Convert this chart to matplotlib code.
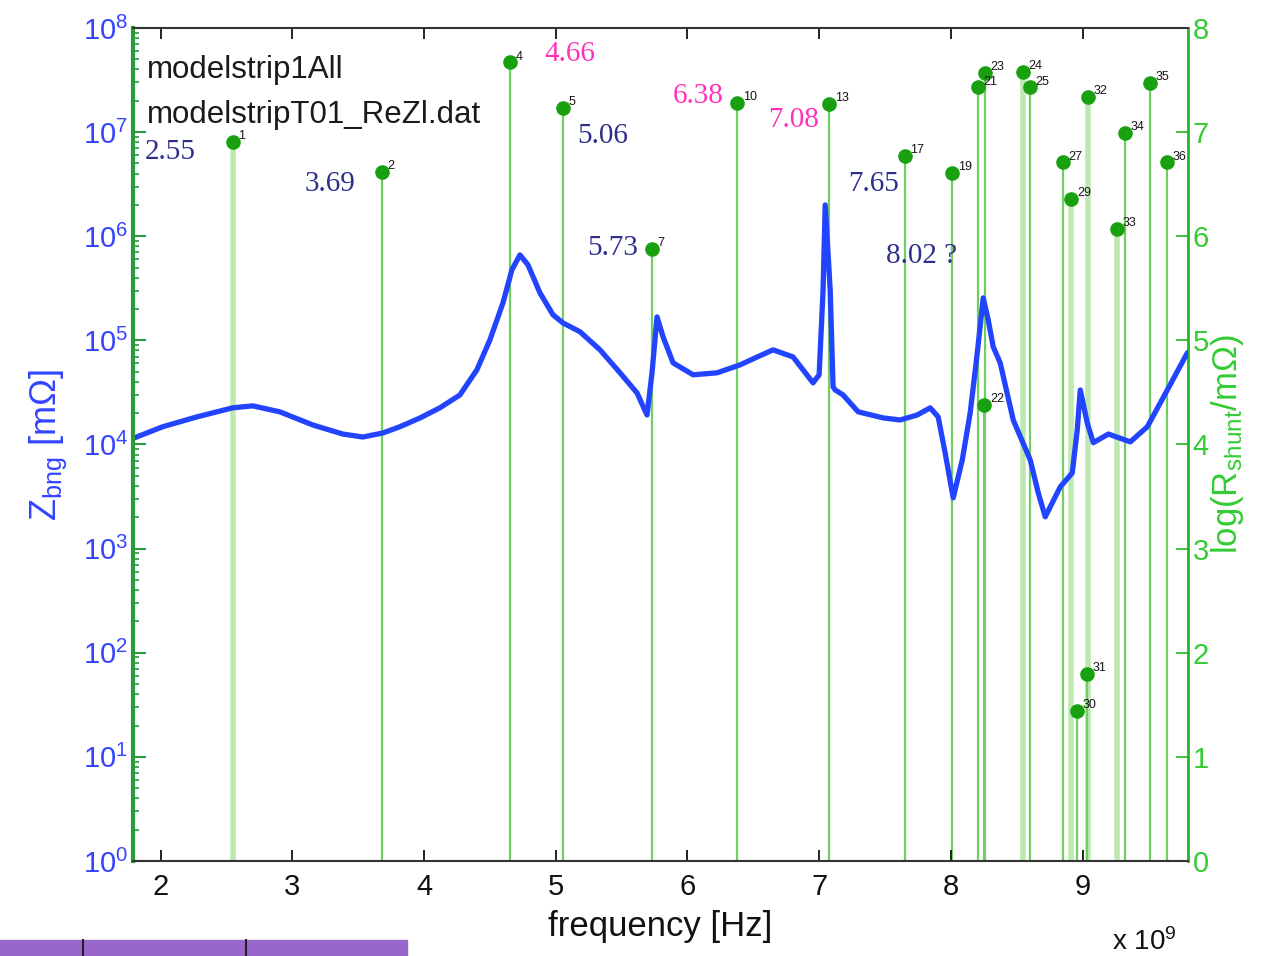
import numpy as np
import matplotlib
matplotlib.use('Agg')
import matplotlib.pyplot as plt
from matplotlib.ticker import FixedLocator, FuncFormatter, LogLocator, NullFormatter
from matplotlib.patches import Rectangle
from matplotlib.lines import Line2D

matplotlib.rcParams['font.family'] = ['Liberation Sans', 'DejaVu Sans']
matplotlib.rcParams['mathtext.fontset'] = 'custom'
matplotlib.rcParams['mathtext.rm'] = 'Liberation Sans'
matplotlib.rcParams['mathtext.it'] = 'Liberation Sans:italic'

# impedance curve, frequency in GHz, Z in mOhm
f_curve = [1.802, 2.015, 2.274, 2.547, 2.699, 2.904, 3.155, 3.383, 3.535, 3.687,
           3.816, 3.970, 4.120, 4.272, 4.401, 4.500, 4.599, 4.667, 4.728, 4.789,
           4.880, 4.979, 5.055, 5.184, 5.336, 5.488, 5.617, 5.693, 5.731, 5.769,
           5.815, 5.891, 6.043, 6.225, 6.400, 6.530, 6.650, 6.802, 6.954, 7.000,
           7.030, 7.046, 7.084, 7.106, 7.122, 7.182, 7.296, 7.486, 7.615, 7.745,
           7.843, 7.904, 7.957, 8.018, 8.087, 8.147, 8.201, 8.246, 8.284, 8.322,
           8.375, 8.474, 8.603, 8.664, 8.717, 8.831, 8.922, 8.960, 8.983, 9.036,
           9.082, 9.196, 9.363, 9.492, 9.644, 9.796]
z_curve = [1.16e4, 1.48e4, 1.84e4, 2.25e4, 2.35e4, 2.06e4, 1.54e4, 1.26e4, 1.18e4, 1.29e4,
           1.48e4, 1.80e4, 2.25e4, 2.99e4, 5.21e4, 1.01e5, 2.29e5, 4.76e5, 6.62e5, 5.31e5,
           2.86e5, 1.76e5, 1.47e5, 1.21e5, 8.11e4, 4.88e4, 3.13e4, 1.92e4, 4.88e4, 1.68e5,
           1.08e5, 6.08e4, 4.67e4, 4.88e4, 5.82e4, 6.93e4, 8.11e4, 6.93e4, 3.91e4, 4.67e4,
           3.05e5, 2.00e6, 3.05e5, 3.57e4, 3.34e4, 2.99e4, 2.06e4, 1.80e4, 1.72e4, 1.92e4,
           2.25e4, 1.84e4, 8.30e3, 3.07e3, 7.11e3, 2.01e4, 7.59e4, 2.56e5, 1.57e5, 8.67e4,
           6.08e4, 1.72e4, 7.11e3, 3.43e3, 2.02e3, 3.92e3, 5.33e3, 1.38e4, 3.34e4, 1.61e4,
           1.04e4, 1.26e4, 1.06e4, 1.48e4, 3.34e4, 7.59e4]

# shunt resonances: index, frequency (GHz), log(Rshunt/mOhm)
res_id = [1, 2, 4, 5, 7, 10, 13, 17, 19, 21, 22, 23, 24, 25, 27, 29, 30, 31, 32, 33, 34, 35, 36]
res_f = [2.547, 3.68, 4.65, 5.055, 5.73, 6.38, 7.076, 7.65, 8.01, 8.207, 8.254, 8.261,
         8.55, 8.60, 8.85, 8.915, 8.96, 9.036, 9.04, 9.26, 9.325, 9.515, 9.645]
res_logr = [6.91, 6.62, 7.67, 7.23, 5.88, 7.28, 7.27, 6.77, 6.61, 7.43, 4.38, 7.57,
            7.58, 7.43, 6.71, 6.36, 1.44, 1.80, 7.34, 6.07, 6.99, 7.47, 6.71]
res_pale = [1, 24, 29, 32, 33]

# hand annotations
note_txt = ['2.55', '3.69', '4.66', '5.06', '5.73', '6.38', '7.08', '7.65', '8.02 ?']
note_col = ['blue', 'blue', 'pink', 'blue', 'blue', 'pink', 'pink', 'blue', 'blue']
note_x = [1.878, 3.094, 4.910, 5.161, 5.237, 5.891, 6.612, 7.220, 7.509]
note_y = [6.81, 6.50, 7.75, 6.96, 5.89, 7.35, 7.12, 6.50, 5.81]

colors = {'blue': '#2e2e8e', 'pink': '#ff33bb'}
green_line = '#6fd060'
green_pale = '#bde8b0'
green_dot = '#18a010'
green_axis = '#22b822'

fig = plt.figure(figsize=(12.61, 9.56), dpi=100)
ax = fig.add_axes([0.1055, 0.0994, 0.8365, 0.8713])
ax2 = ax.twinx()
ax.set_zorder(ax2.get_zorder() + 1)
ax.patch.set_visible(False)

# stems on the right axis
for i, f, r in zip(res_id, res_f, res_logr):
    if i in res_pale:
        ax2.vlines(f * 1e9, 0, r, color=green_pale, lw=4, zorder=1)
    else:
        ax2.vlines(f * 1e9, 0, r, color=green_line, lw=1.6, zorder=2)
ax2.plot(np.array(res_f) * 1e9, res_logr, 'o', color=green_dot, ms=9.5, zorder=3)
for i, f, r in zip(res_id, res_f, res_logr):
    ax2.annotate(str(i), (f * 1e9, r), xytext=(4, 2), textcoords='offset points',
                 fontsize=9, color='#151515', zorder=4)

for t, c, x, y in zip(note_txt, note_col, note_x, note_y):
    ax2.text(x * 1e9, y, t, color=colors[c], fontsize=21, family='Liberation Serif',
             ha='left', va='center', zorder=5)

ax.text(0.013, 0.949, 'modelstrip1All', transform=ax.transAxes, fontsize=22.5,
        color='#1a1a1a', va='center')
ax.text(0.013, 0.895, 'modelstripT01_ReZl.dat', transform=ax.transAxes, fontsize=22.5,
        color='#1a1a1a', va='center')

# impedance
ax.semilogy(np.array(f_curve) * 1e9, z_curve, color='#2244ff', lw=3.8,
            solid_joinstyle='round', solid_capstyle='round')

ax.set_xlim(1.79e9, 9.80e9)
ax.set_ylim(1, 1e8)
ax2.set_ylim(0, 8)

ax.xaxis.set_major_locator(FixedLocator([k * 1e9 for k in range(2, 10)]))
ax.xaxis.set_major_formatter(FuncFormatter(lambda v, p: '%d' % round(v / 1e9)))
ax.yaxis.set_major_locator(LogLocator(base=10, numticks=12))
ax.yaxis.set_minor_locator(LogLocator(base=10, subs=np.arange(2, 10), numticks=12))
ax.yaxis.set_minor_formatter(NullFormatter())

ax.tick_params(axis='x', which='both', direction='in', top=True, length=8, width=1.3,
               labelsize=21, colors='#111111', pad=9)
ax.tick_params(axis='y', which='major', direction='in', length=9, width=1.5,
               color='#2a9a3a', labelcolor='#3344ff', labelsize=21, right=False)
ax.tick_params(axis='y', which='minor', direction='in', length=4, width=1.2,
               color='#2a9a3a', right=False)
ax2.tick_params(axis='y', direction='in', length=9, width=1.2, color=green_axis,
                labelcolor='#33cc33', labelsize=21)
ax2.set_yticks(range(0, 9))

for s in ['top', 'bottom']:
    ax.spines[s].set_color('#333333')
    ax.spines[s].set_linewidth(1.5)
ax.spines['left'].set_color('#2a9a3a')
ax.spines['left'].set_linewidth(3)
ax.spines['right'].set_visible(False)
for s in ['top', 'bottom', 'left']:
    ax2.spines[s].set_visible(False)
ax2.spines['right'].set_color(green_axis)
ax2.spines['right'].set_linewidth(2)

ax.set_xlabel('frequency [Hz]', fontsize=25, color='#111111', labelpad=6)
ax.set_ylabel(r'Z$_{\mathrm{bng}}$ [m$\Omega$]', fontsize=26, color='#3344ff', labelpad=10)
ax2.set_ylabel(r'log(R$_{\mathrm{shunt}}$/m$\Omega$)', fontsize=25, color='#33cc33',
               labelpad=0)

fig.text(0.882, 0.006, r'x 10$^{9}$', fontsize=20, color='#111111')

# clipped purple strip at the bottom-left edge of the screenshot
fig.patches.append(Rectangle((0, 0), 407 / 1261, 16 / 956, transform=fig.transFigure,
                             color='#9966cc', zorder=0))
for xp in [83, 246]:
    fig.lines.append(Line2D([xp / 1261, xp / 1261], [0, 16 / 956], transform=fig.transFigure,
                            color='#222222', lw=1.5))

fig.savefig('out.png', dpi=100)
